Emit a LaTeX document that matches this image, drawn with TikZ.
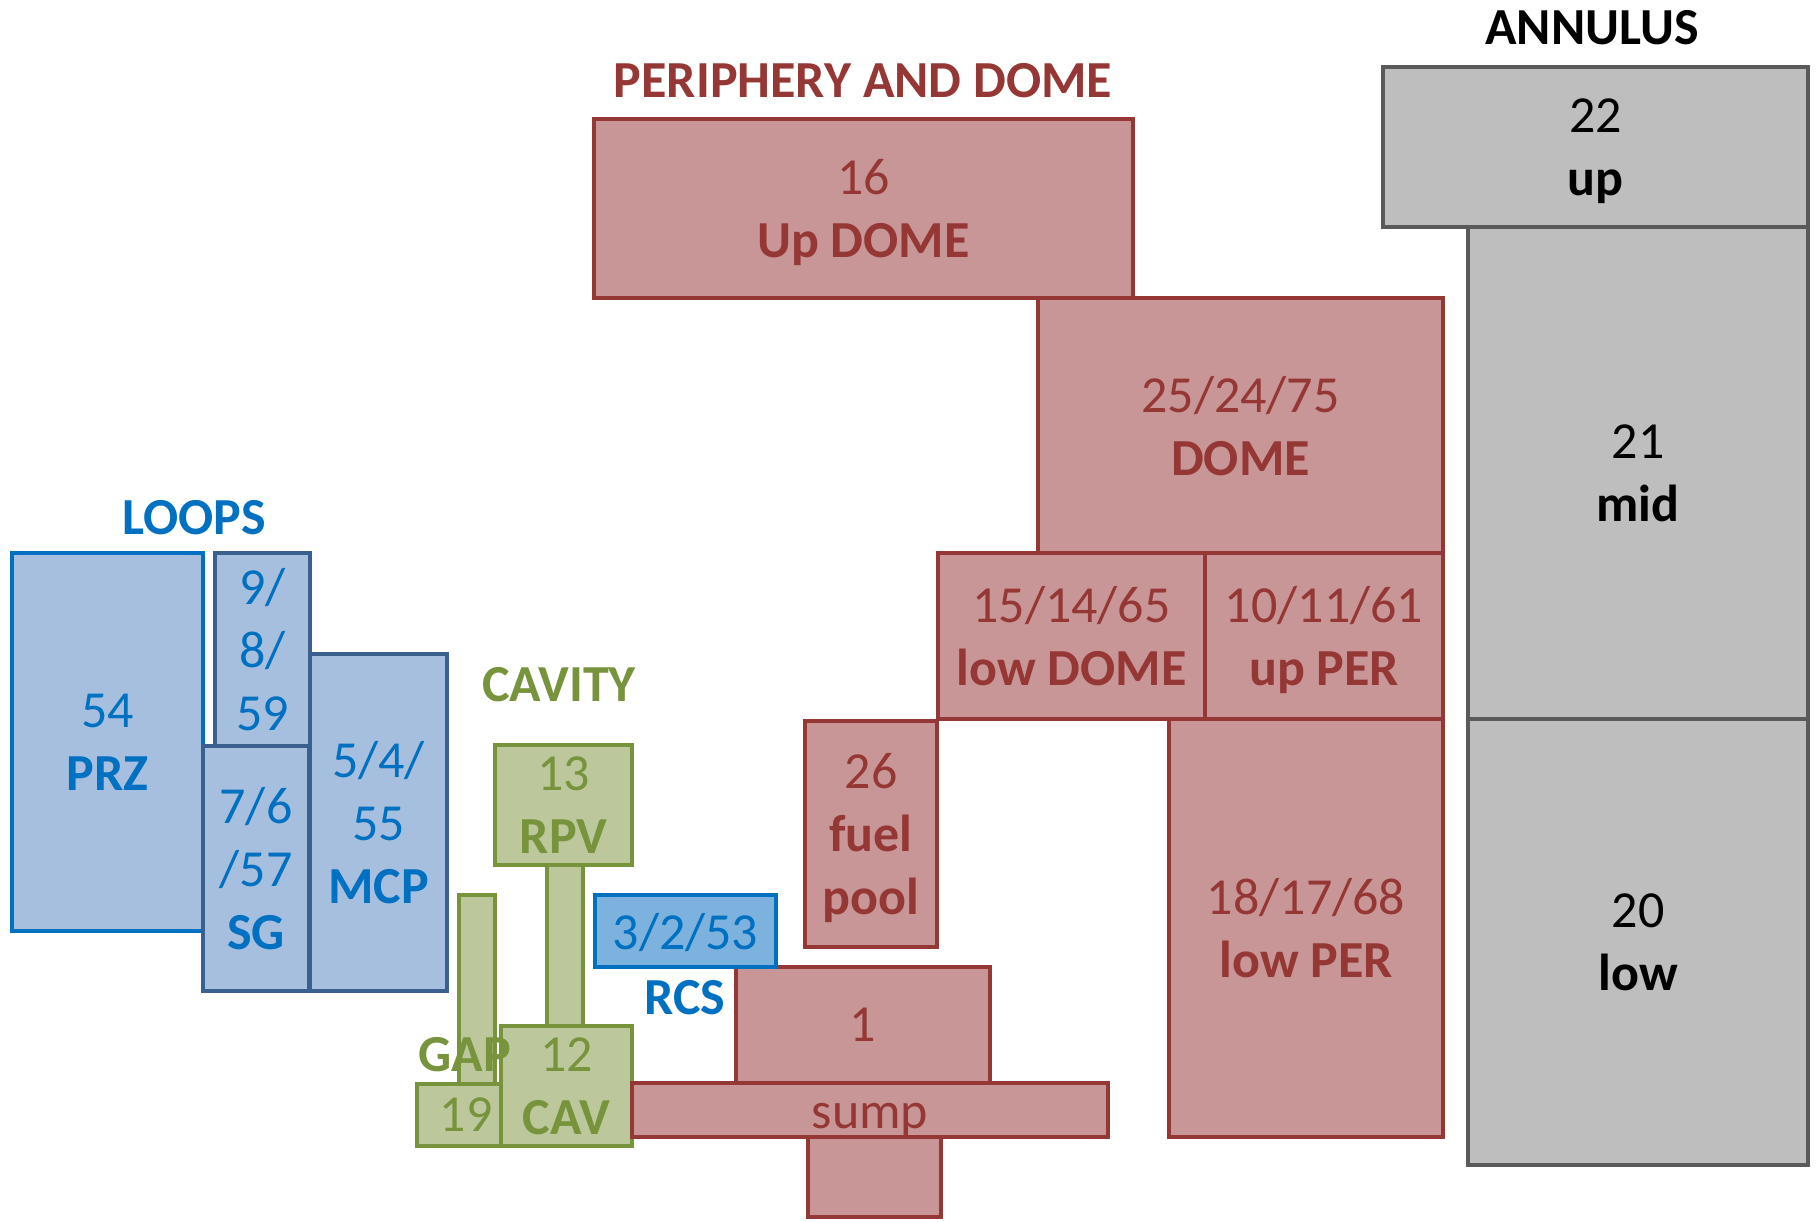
\documentclass[tikz,border=0pt]{standalone}
\usepackage{fontspec}
\setmainfont{Carlito}
\definecolor{perfill}{HTML}{C89696}
\definecolor{perline}{HTML}{953735}
\definecolor{loopfill}{HTML}{A7BFDE}
\definecolor{loopline}{HTML}{3B5F8F}
\definecolor{loopblue}{HTML}{0070C0}
\definecolor{rcsfill}{HTML}{7DB2DE}
\definecolor{gapfill}{HTML}{BCC89C}
\definecolor{gapline}{HTML}{77933C}
\definecolor{annfill}{HTML}{BEBEBE}
\definecolor{annline}{HTML}{5A5A5A}
\tikzset{
  bx/.style={inner sep=0pt, outer sep=0pt, line width=1.6pt, line join=miter, align=center,
    font=\fontsize{26}{31.5}\selectfont, text depth=-2.4pt},
  perbox/.style={bx, fill=perfill, draw=perline, text=perline},
  loopbox/.style={bx, fill=loopfill, draw=loopline, text=loopblue},
  przbox/.style={bx, fill=loopfill, draw=loopblue, text=loopblue},
  rcsbox/.style={bx, fill=rcsfill, draw=loopblue, text=loopblue},
  gapbox/.style={bx, fill=gapfill, draw=gapline, text=gapline},
  annbox/.style={bx, fill=annfill, draw=annline, text=black},
  ttl/.style={inner sep=0pt, font=\fontsize{26}{31.5}\selectfont\bfseries}
}
\newcommand\bx[7]{%
  \pgfmathsetmacro\bxw{(#5-#3)*0.5}%
  \pgfmathsetmacro\bxh{(#6-#4)*0.5}%
  \pgfmathsetmacro\bxx{(#3+#5)/2}%
  \pgfmathsetmacro\bxy{(#4+#6)/2}%
  \node[#2, minimum width=\bxw pt, minimum height=\bxh pt] (#1) at (\bxx,\bxy) {#7};}
\begin{document}
\begin{tikzpicture}[x=0.5pt,y=-0.5pt]
\useasboundingbox[fill=white] (0,0) rectangle (1818,1221);
% ---------- LOOPS ----------
\bx{prz}{przbox}{12}{553}{203}{931}{54\\\textbf{PRZ}}
\bx{sgtop}{loopbox}{215}{553}{310}{746}{9/\\8/\\59}
\bx{mcp}{loopbox}{310}{654}{447}{991}{5/4/\\55\\\textbf{MCP}}
\bx{sg}{loopbox}{203}{746}{309}{991}{7/6\\/57\\\textbf{SG}}
\node[ttl, text=loopblue] (tloops) at (194,518) {LOOPS};
% ---------- CAVITY ----------
\bx{rpvstem}{gapbox}{547}{865}{583}{1026}{}
\bx{gapstem}{gapbox}{459}{895}{495}{1084}{}
\bx{rpv}{gapbox}{495}{745}{632}{865}{13\\\textbf{RPV}}
\bx{g19}{gapbox}{417}{1084}{501}{1146}{\hspace*{7pt}19}
\bx{cav}{gapbox}{501}{1026}{632}{1146}{12\\\textbf{CAV}}
\node[ttl, text=gapline] (tcav) at (559,685) {CAVITY};
\node[ttl, text=gapline] (tgap) at (465,1055) {GAP};
% ---------- PERIPHERY AND DOME ----------
\bx{updome}{perbox}{594}{119}{1133}{298}{16\\\textbf{Up DOME}}
\bx{dome}{perbox}{1038}{298}{1443}{553}{25/24/75\\\textbf{DOME}}
\bx{lowper}{perbox}{1169}{719}{1443}{1137}{18/17/68\\\textbf{low PER}}
\bx{lowdome}{perbox}{938}{553}{1205}{719}{15/14/65\\\textbf{low DOME}}
\bx{upper}{perbox}{1205}{553}{1443}{719}{10/11/61\\\textbf{up PER}}
\bx{pool}{perbox}{805}{721}{937}{947}{26\\\textbf{fuel}\\\textbf{pool}}
\bx{one}{perbox}{736}{967}{990}{1083}{1}
\bx{sumpbot}{perbox}{808}{1137}{941}{1217}{}
\bx{sump}{perbox}{632}{1083}{1108}{1137}{\raisebox{-3pt}[\height][\depth]{sump}}
\node[ttl, text=perline] (tper) at (863,81) {PERIPHERY AND DOME};
% ---------- RCS ----------
\bx{rcs}{rcsbox}{595}{895}{776}{967}{3/2/53}
\node[ttl, text=loopblue] (trcs) at (685,998) {RCS};
% ---------- ANNULUS ----------
\bx{ann21}{annbox}{1468}{227}{1808}{719}{21\\\textbf{mid}}
\bx{ann20}{annbox}{1468}{719}{1808}{1165}{20\\\textbf{low}}
\bx{ann22}{annbox}{1383}{67}{1808}{227}{22\\\textbf{up}}
\node[ttl, text=black] (tann) at (1592,28) {ANNULUS};
\end{tikzpicture}
\end{document}
